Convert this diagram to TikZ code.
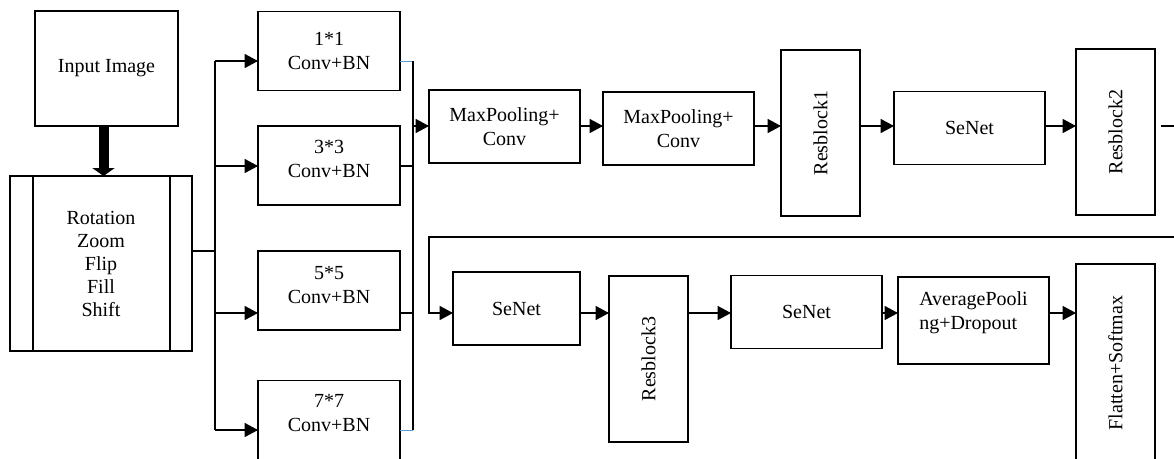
\documentclass[tikz,border=0pt]{standalone}
\usepackage{fontspec}
\setmainfont{Liberation Serif}
\newfontfamily\boxfont{Liberation Serif}
\usepackage{graphicx}
\usetikzlibrary{arrows.meta}
\definecolor{linkblue}{RGB}{91,155,213}
\tikzset{
  blk/.style={draw, line width=0.8pt, inner sep=0pt, outer sep=0pt, align=center, font=\boxfont\fontsize{15}{18}\selectfont},
  convbox/.style={blk, minimum width=106.5pt, minimum height=59.25pt},
  widebox/.style={blk, minimum width=113.25pt, minimum height=54.75pt},
  tallbox/.style={blk, minimum width=59.25pt, minimum height=124.5pt},
  wire/.style={line width=0.8pt},
  arr/.style={line width=0.8pt, -{Triangle[length=10pt,width=10.5pt]}},
}

\begin{document}
\begin{tikzpicture}[x=0.75pt,y=0.75pt,yscale=-1,xscale=1]
\useasboundingbox (0,0) rectangle (1174,458);

% Input and augmentation
\node[blk, minimum width=107.25pt, minimum height=86.25pt] (inp) at (106.5,68.5) {Input Image};
\node[blk, minimum width=136.5pt, minimum height=131.25pt, font=\boxfont\fontsize{15}{17.25}\selectfont] (aug) at (101,263.5) {Rotation\\Zoom\\Flip\\Fill\\Shift};
\draw[wire] ([xshift=17.25pt]aug.north west) -- ([xshift=17.25pt]aug.south west);
\draw[wire] ([xshift=-16.5pt]aug.north east) -- ([xshift=-16.5pt]aug.south east);
\draw[line width=7.5pt, -{Triangle[length=6pt,width=16.5pt]}] ([xshift=-2.25pt]inp.south) -- ([xshift=-2.25pt]inp.south |- aug.north);

% Multi-scale convolutions
\node[convbox] (c1) at (329,51) {1*1\\Conv+BN};
\node[convbox, text depth=10pt] (c2) at (329,165.5) {3*3\\Conv+BN};
\node[convbox, text depth=9pt] (c3) at (329,290.5) {5*5\\Conv+BN};
\node[convbox, text depth=10pt] (c4) at (329,420) {7*7\\Conv+BN};

\coordinate (split) at (215,251);
\coordinate (b1) at (215,61);
\coordinate (b2) at (215,166);
\coordinate (b3) at (215,313);
\coordinate (b4) at (215,430);
\draw[wire] (aug.east |- split) -- (split);
\draw[wire] (b1) -- (b4);
\foreach \n in {1,...,4}
  \draw[arr] (b\n) -- (b\n -| c\n.west);

\coordinate (j1) at (413,61);
\coordinate (j2) at (413,166);
\coordinate (j3) at (413,313);
\coordinate (j4) at (413,430);
\coordinate (jm) at (413,126);
\draw[linkblue, line width=0.6pt] (c1.east |- j1) -- (j1);
\draw[wire] (c2.east |- j2) -- (j2);
\draw[wire] (c3.east |- j3) -- (j3);
\draw[linkblue, line width=0.6pt] (c4.east |- j4) -- (j4);
\draw[wire] (j1) -- (j4);

% Row 1
\coordinate (r1) at (0,126);
\node[widebox] (mp1) at (504.5,126.5) {MaxPooling+\\Conv};
\node[widebox] (mp2) at (678.5,128.5) {MaxPooling+\\Conv};
\node[tallbox] (rb1) at (820.5,133) {\rotatebox{90}{Resblock1}};
\node[widebox] (se1) at (969.5,128) {SeNet};
\node[tallbox] (rb2) at (1115.5,132) {\rotatebox{90}{Resblock2}};

\draw[arr] (jm) -- (jm -| mp1.west);
\foreach \a/\b in {mp1/mp2, mp2/rb1, rb1/se1, se1/rb2}
  \draw[arr] (\a.east |- r1) -- (\b.west |- r1);

% Row 2
\coordinate (r2) at (0,313);
\coordinate (turn) at (429,237);
\node[widebox, minimum width=95.25pt] (se2) at (516.5,308.5) {SeNet};
\node[tallbox] (rb3) at (648.5,359) {\rotatebox{90}{Resblock3}};
\node[widebox] (se3) at (806.5,312) {SeNet};
\node[widebox, minimum height=65.25pt, align=left, text depth=15pt] (avg) at (973.5,320.5) {AveragePooli\\ng+Dropout};
\node[tallbox, minimum height=148.5pt] (flat) at (1115.5,363) {\rotatebox{90}{Flatten+Softmax}};

\draw[arr] ([xshift=4.5pt]rb2.east |- r1) -- ++(30,0) |- (turn) |- (se2.west |- r2);
\foreach \a/\b in {se2/rb3, rb3/se3, se3/avg, avg/flat}
  \draw[arr] (\a.east |- r2) -- (\b.west |- r2);

\end{tikzpicture}
\end{document}
